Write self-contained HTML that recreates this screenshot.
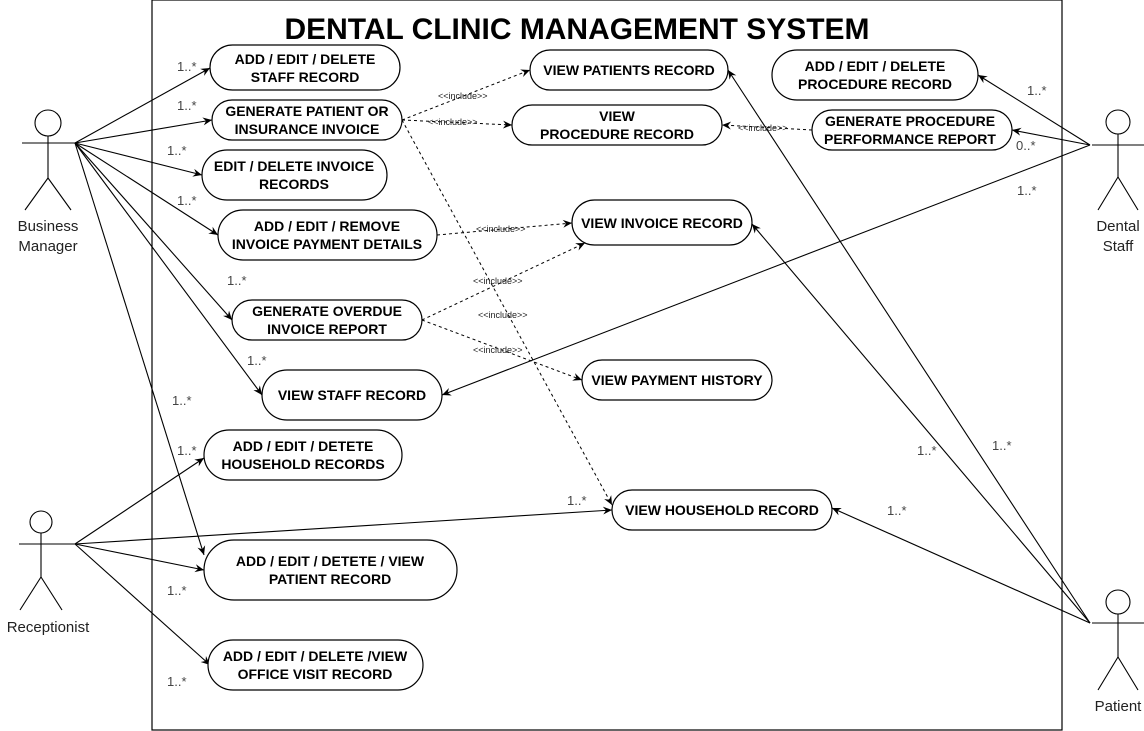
<!DOCTYPE html>
<html><head><meta charset="utf-8"><style>
html,body{margin:0;padding:0;background:#fff;}
svg{display:block;font-family:"Liberation Sans",Arial,sans-serif;}
.uc{fill:#fff;stroke:#000;stroke-width:1.2;}
.t{font-size:14px;font-weight:bold;text-anchor:middle;}
.m{font-size:13px;fill:#444;}
.i{font-size:9px;fill:#222;}
.l{stroke:#000;stroke-width:1.1;fill:none;}
.d{stroke:#000;stroke-width:1;fill:none;stroke-dasharray:3,3;}
.a{font-size:15px;text-anchor:middle;fill:#222;}
</style></head><body>
<svg width="1144" height="731" viewBox="0 0 1144 731">
<defs>
<marker id="ar" markerWidth="10" markerHeight="10" refX="9" refY="5" orient="auto" markerUnits="userSpaceOnUse"><path d="M0,1 L9,5 L0,9 L3,5 z" fill="#000"/></marker>
</defs>
<rect x="152" y="0" width="910" height="730" fill="none" stroke="#000" stroke-width="1.2"/>
<text x="577" y="39" font-size="30" font-weight="bold" text-anchor="middle" textLength="585" lengthAdjust="spacingAndGlyphs">DENTAL CLINIC MANAGEMENT SYSTEM</text>

<g class="l">
<circle cx="48" cy="123" r="13"/><line x1="22" y1="143" x2="75" y2="143"/><line x1="48" y1="136" x2="48" y2="178"/><line x1="48" y1="178" x2="25" y2="210"/><line x1="48" y1="178" x2="71" y2="210"/>
<circle cx="41" cy="522" r="11"/><line x1="19" y1="544" x2="75" y2="544"/><line x1="41" y1="533" x2="41" y2="577"/><line x1="41" y1="577" x2="20" y2="610"/><line x1="41" y1="577" x2="62" y2="610"/>
<circle cx="1118" cy="122" r="12"/><line x1="1092" y1="145" x2="1144" y2="145"/><line x1="1118" y1="134" x2="1118" y2="177"/><line x1="1118" y1="177" x2="1098" y2="210"/><line x1="1118" y1="177" x2="1138" y2="210"/>
<circle cx="1118" cy="602" r="12"/><line x1="1092" y1="623" x2="1144" y2="623"/><line x1="1118" y1="614" x2="1118" y2="657"/><line x1="1118" y1="657" x2="1098" y2="690"/><line x1="1118" y1="657" x2="1138" y2="690"/>
</g>
<text class="a" x="48" y="231">Business</text><text class="a" x="48" y="251">Manager</text>
<text class="a" x="48" y="632">Receptionist</text>
<text class="a" x="1118" y="231">Dental</text><text class="a" x="1118" y="251">Staff</text>
<text class="a" x="1118" y="711">Patient</text>

<g class="l" marker-end="url(#ar)">
<line x1="75" y1="143" x2="210" y2="68"/>
<line x1="75" y1="143" x2="212" y2="120"/>
<line x1="75" y1="143" x2="202" y2="175"/>
<line x1="75" y1="143" x2="218" y2="235"/>
<line x1="75" y1="143" x2="232" y2="320"/>
<line x1="75" y1="143" x2="262" y2="395"/>
<line x1="75" y1="143" x2="204" y2="555"/>
<line x1="75" y1="544" x2="204" y2="458"/>
<line x1="75" y1="544" x2="612" y2="510"/>
<line x1="75" y1="544" x2="204" y2="570"/>
<line x1="75" y1="544" x2="210" y2="665"/>
<line x1="1090" y1="145" x2="978" y2="75"/>
<line x1="1090" y1="145" x2="1012" y2="130"/>
<line x1="1090" y1="145" x2="442" y2="395"/>
<line x1="1090" y1="623" x2="728" y2="70"/>
<line x1="1090" y1="623" x2="752" y2="224"/>
<line x1="1090" y1="623" x2="832" y2="508"/>
</g>
<g class="d" marker-end="url(#ar)">
<line x1="402" y1="120" x2="530" y2="70"/>
<line x1="402" y1="120" x2="512" y2="125"/>
<line x1="812" y1="130" x2="722" y2="125"/>
<line x1="437" y1="235" x2="572" y2="223"/>
<line x1="422" y1="320" x2="585" y2="243"/>
<line x1="422" y1="320" x2="582" y2="380"/>
<line x1="402" y1="120" x2="612" y2="505"/>
</g>
<g class="i">
<text x="438" y="99">&lt;&lt;include&gt;&gt;</text>
<text x="428" y="125">&lt;&lt;include&gt;&gt;</text>
<text x="738" y="131">&lt;&lt;include&gt;&gt;</text>
<text x="476" y="232">&lt;&lt;include&gt;&gt;</text>
<text x="473" y="284">&lt;&lt;include&gt;&gt;</text>
<text x="478" y="318">&lt;&lt;include&gt;&gt;</text>
<text x="473" y="353">&lt;&lt;include&gt;&gt;</text>
</g>

<g class="m">
<text x="177" y="71">1..*</text><text x="177" y="110">1..*</text><text x="167" y="155">1..*</text>
<text x="177" y="205">1..*</text><text x="227" y="285">1..*</text><text x="247" y="365">1..*</text>
<text x="172" y="405">1..*</text><text x="177" y="455">1..*</text><text x="167" y="595">1..*</text>
<text x="167" y="686">1..*</text><text x="567" y="505">1..*</text>
<text x="1027" y="95">1..*</text><text x="1016" y="150">0..*</text><text x="1017" y="195">1..*</text>
<text x="917" y="455">1..*</text><text x="992" y="450">1..*</text><text x="887" y="515">1..*</text>
</g>

<g>
<rect class="uc" x="210" y="45" width="190" height="45" rx="22.5"/>
<text class="t" x="305" y="64">ADD / EDIT / DELETE</text><text class="t" x="305" y="82">STAFF RECORD</text>
<rect class="uc" x="212" y="100" width="190" height="40" rx="20"/>
<text class="t" x="307" y="116">GENERATE PATIENT OR</text><text class="t" x="307" y="134">INSURANCE INVOICE</text>
<rect class="uc" x="202" y="150" width="185" height="50" rx="25"/>
<text class="t" x="294" y="171">EDIT / DELETE INVOICE</text><text class="t" x="294" y="189">RECORDS</text>
<rect class="uc" x="218" y="210" width="219" height="50" rx="25"/>
<text class="t" x="327" y="231">ADD / EDIT / REMOVE</text><text class="t" x="327" y="249">INVOICE PAYMENT DETAILS</text>
<rect class="uc" x="232" y="300" width="190" height="40" rx="20"/>
<text class="t" x="327" y="316">GENERATE OVERDUE</text><text class="t" x="327" y="334">INVOICE REPORT</text>
<rect class="uc" x="262" y="370" width="180" height="50" rx="25"/>
<text class="t" x="352" y="400">VIEW STAFF RECORD</text>
<rect class="uc" x="204" y="430" width="198" height="50" rx="25"/>
<text class="t" x="303" y="451">ADD / EDIT / DETETE</text><text class="t" x="303" y="469">HOUSEHOLD RECORDS</text>
<rect class="uc" x="204" y="540" width="253" height="60" rx="30"/>
<text class="t" x="330" y="566">ADD / EDIT / DETETE / VIEW</text><text class="t" x="330" y="584">PATIENT RECORD</text>
<rect class="uc" x="208" y="640" width="215" height="50" rx="25"/>
<text class="t" x="315" y="661">ADD / EDIT / DELETE /VIEW</text><text class="t" x="315" y="679">OFFICE VISIT RECORD</text>
<rect class="uc" x="530" y="50" width="198" height="40" rx="20"/>
<text class="t" x="629" y="75">VIEW PATIENTS RECORD</text>
<rect class="uc" x="512" y="105" width="210" height="40" rx="20"/>
<text class="t" x="617" y="121">VIEW</text><text class="t" x="617" y="139">PROCEDURE RECORD</text>
<rect class="uc" x="772" y="50" width="206" height="50" rx="25"/>
<text class="t" x="875" y="71">ADD / EDIT / DELETE</text><text class="t" x="875" y="89">PROCEDURE RECORD</text>
<rect class="uc" x="812" y="110" width="200" height="40" rx="20"/>
<text class="t" x="910" y="126">GENERATE PROCEDURE</text><text class="t" x="910" y="144">PERFORMANCE REPORT</text>
<rect class="uc" x="572" y="200" width="180" height="45" rx="22.5"/>
<text class="t" x="662" y="228">VIEW INVOICE RECORD</text>
<rect class="uc" x="582" y="360" width="190" height="40" rx="20"/>
<text class="t" x="677" y="385">VIEW PAYMENT HISTORY</text>
<rect class="uc" x="612" y="490" width="220" height="40" rx="20"/>
<text class="t" x="722" y="515">VIEW HOUSEHOLD RECORD</text>
</g>
</svg>
</body></html>
